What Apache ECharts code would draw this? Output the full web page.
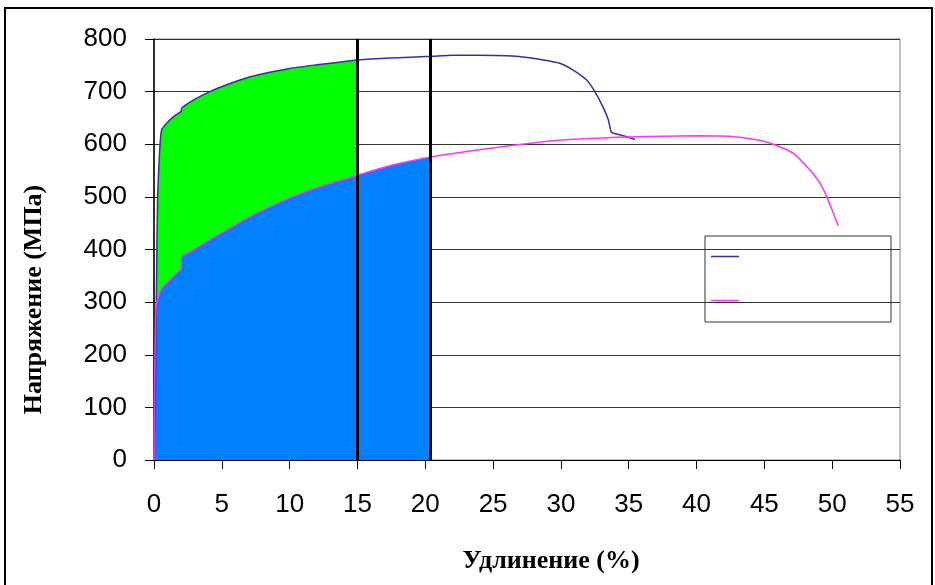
<!DOCTYPE html>
<html>
<head>
<meta charset="utf-8">
<script src="https://cdn.jsdelivr.net/npm/echarts@6/dist/echarts.min.js"></script>
<style>html,body{margin:0;padding:0;background:#fff;}#c{width:935px;height:585px;}</style>
</head>
<body>
<div id="c"></div>
<script>
// ---- data ----
var xTitle = 'Удлинение (%)';
var yTitle = 'Напряжение (МПа)';
var xTicks = {min: 0, max: 55, interval: 5};
var yTicks = {min: 0, max: 800, interval: 100};
var verticalLines = [15, 20.4];
// curve 1 (dark blue): [elongation %, stress MPa]
var curve1 = [[0,0],[0.05,60],[0.12,184],[0.2,374],[0.27,500],[0.4,580],[0.49,614],[0.56,627],[0.7,633],[0.93,640],[1.42,652],[1.92,661],[2.0,662],[2.05,669],[2.9,684],[4.13,700],[5.36,713],[6.34,722],[7.7,732],[10,744],[12,751],[13,754],[15,760],[17.5,764],[20.4,767],[22,769],[24,769],[26,768],[27.5,765],[28.5,761],[29.9,754],[30.9,741],[31.9,722],[32.5,700],[33.1,671],[33.5,646],[33.7,624],[33.87,621],[34.6,616],[35.46,609]];
// curve 2 (magenta)
var curve2 = [[0,0],[0.02,80],[0.05,160],[0.1,240],[0.15,291],[0.32,310],[0.57,326],[1.18,342],[1.92,361],[2.0,362],[2.05,386],[2.9,399],[3.88,415],[5.36,437],[6.83,459],[7.8,472],[10,498],[12.5,522],[15,541],[17.5,560],[20.4,576],[25,593],[30,608],[35,614],[40,616],[43,614],[44.7,607],[45.66,600],[47.13,583],[48.36,551],[49.1,526],[49.6,500],[50.08,469],[50.45,445]];

var greenPart = curve1.filter(function(p){return p[0] <= verticalLines[0];});
var bluePart = curve2.filter(function(p){return p[0] <= verticalLines[1];});

var chart = echarts.init(document.getElementById('c'), null, {renderer: 'canvas'});
var labelFont = {color: '#000', fontFamily: 'Liberation Sans', fontSize: 26};
var SM = 0.2;
chart.setOption({
  animation: false,
  backgroundColor: '#fff',
  grid: {left: 154, right: 35, top: 39, bottom: 125, show: true, borderColor: '#808080', borderWidth: 1, backgroundColor: 'transparent'},
  xAxis: {
    type: 'value', min: xTicks.min, max: xTicks.max, interval: xTicks.interval,
    name: xTitle, nameLocation: 'middle', nameGap: 88,
    nameTextStyle: {color: '#000', fontFamily: 'Liberation Serif', fontWeight: 'bold', fontSize: 26, padding: [0, 0, 0, 48]},
    axisLine: {show: true, onZero: false, lineStyle: {color: '#000', width: 1}},
    axisTick: {show: true, inside: false, length: 9, lineStyle: {color: '#000'}},
    axisLabel: Object.assign({margin: 32}, labelFont),
    splitLine: {show: false}
  },
  yAxis: {
    type: 'value', min: yTicks.min, max: yTicks.max, interval: yTicks.interval,
    name: yTitle, nameLocation: 'middle', nameGap: 107, nameRotate: 90,
    nameTextStyle: {color: '#000', fontFamily: 'Liberation Serif', fontWeight: 'bold', fontSize: 26, padding: [0, 100, 0, 0]},
    axisLine: {show: true, onZero: false, lineStyle: {color: '#000', width: 1.5}},
    axisTick: {show: true, inside: false, length: 9, lineStyle: {color: '#000'}},
    axisLabel: Object.assign({margin: 27}, labelFont),
    splitLine: {show: true, lineStyle: {color: '#333', width: 1}}
  },
  series: [
    {type: 'line', data: greenPart, showSymbol: false, silent: true, z: 1, smooth: SM,
      lineStyle: {width: 0}, areaStyle: {color: '#00ff00', opacity: 1}},
    {type: 'line', data: bluePart, showSymbol: false, silent: true, z: 2, smooth: SM,
      lineStyle: {width: 0}, areaStyle: {color: '#0080ff', opacity: 1}},
    {type: 'line', name: '1', data: curve1, showSymbol: false, z: 3, smooth: SM,
      lineStyle: {color: '#333399', width: 1.5}},
    {type: 'line', name: '2', data: curve2, showSymbol: false, z: 4, smooth: SM,
      lineStyle: {color: '#ff33ff', width: 1.5},
      markLine: {silent: true, symbol: 'none', label: {show: false},
        lineStyle: {color: '#000', width: 3, type: 'solid'},
        data: verticalLines.map(function(v){return {xAxis: v};})}}
  ],
  graphic: [
    {type: 'rect', shape: {x: 5, y: 8, width: 927, height: 600}, style: {fill: 'none', stroke: '#000', lineWidth: 2}, z: 100},
    {type: 'group', z: 100, children: [
      {type: 'rect', shape: {x: 705, y: 236, width: 186, height: 86}, style: {fill: '#fff', stroke: '#333', lineWidth: 1}},
      {type: 'line', shape: {x1: 711, y1: 256.5, x2: 739, y2: 256.5}, style: {stroke: '#333399', lineWidth: 1.5}},
      {type: 'line', shape: {x1: 711, y1: 300.5, x2: 739, y2: 300.5}, style: {stroke: '#ff33ff', lineWidth: 1.5}}
    ]}
  ]
});
</script>
</body>
</html>
